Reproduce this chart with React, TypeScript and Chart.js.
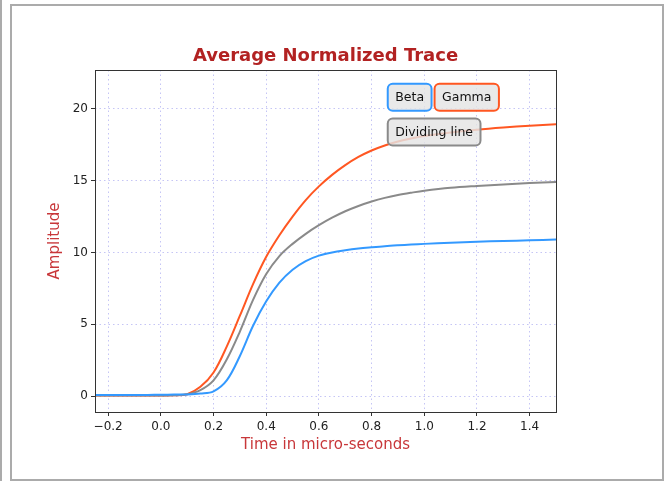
import React, { useEffect, useRef } from "react";
import { Chart, registerables } from "chart.js";

Chart.register(...registerables);

const timeValues = [-0.25, -0.15, -0.05, 0, 0.05, 0.1, 0.15, 0.2, 0.25, 0.3, 0.35, 0.4, 0.45, 0.5, 0.55, 0.6, 0.65, 0.7, 0.75, 0.8, 0.85, 0.9, 0.95, 1.0, 1.1, 1.2, 1.3, 1.4, 1.5];
const gammaValues = [0.05, 0.05, 0.05, 0.05, 0.06, 0.14, 0.65, 1.65, 3.45, 5.6, 7.8, 9.7, 11.2, 12.5, 13.65, 14.6, 15.4, 16.08, 16.65, 17.1, 17.45, 17.72, 17.93, 18.1, 18.35, 18.55, 18.7, 18.82, 18.92];
const dividingValues = [0.05, 0.05, 0.05, 0.05, 0.06, 0.13, 0.42, 1.1, 2.55, 4.5, 6.7, 8.5, 9.75, 10.6, 11.3, 11.9, 12.42, 12.87, 13.24, 13.55, 13.8, 14.0, 14.16, 14.3, 14.5, 14.63, 14.74, 14.83, 14.9];
const betaValues = [0.08, 0.08, 0.09, 0.1, 0.11, 0.12, 0.18, 0.34, 1.1, 2.8, 4.9, 6.6, 7.9, 8.8, 9.4, 9.78, 10.0, 10.15, 10.27, 10.36, 10.44, 10.5, 10.55, 10.6, 10.68, 10.75, 10.8, 10.85, 10.9];

const xTicks = [-0.2, 0.0, 0.2, 0.4, 0.6, 0.8, 1.0, 1.2, 1.4];
const yTicks = [0, 5, 10, 15, 20];

const titleText = "Average Normalized Trace";
const xLabel = "Time in micro-seconds";
const yLabel = "Amplitude";
const legendRow1 = ["Beta", "Gamma"];
const legendRow2 = ["Dividing line"];

const FONT = "'DejaVu Sans', 'Noto Sans', sans-serif";
const BLUE = "#3399ff";
const ORANGE = "#ff5722";
const GRAY = "#8a8a8a";

const fmt = (v: number, d: number) => {
  const s = Math.abs(v).toFixed(d);
  return v < -1e-9 ? "\u2212" + s : s;
};

const overlayPlugin = {
  id: "overlay",
  afterDraw(chart: any) {
    const { ctx, chartArea } = chart;
    const { left, right, top, bottom } = chartArea;
    ctx.save();
    // axes frame
    ctx.strokeStyle = "#333333";
    ctx.lineWidth = 1;
    ctx.strokeRect(Math.round(left) + 0.5, Math.round(top) + 0.5, Math.round(right - left), Math.round(bottom - top));
    // title
    ctx.fillStyle = "#b22222";
    ctx.font = "bold 18px " + FONT;
    ctx.textAlign = "center";
    ctx.textBaseline = "alphabetic";
    ctx.fillText(titleText, (left + right) / 2, top - 9);

    // text boxes
    const w = right - left;
    const h = bottom - top;
    const drawBox = (x: number, y: number, text: string, color: string) => {
      ctx.font = "12.5px " + FONT;
      const tw = ctx.measureText(text).width;
      const bw = tw + 15;
      const bh = 27;
      const r = 5;
      ctx.beginPath();
      ctx.roundRect(x, y, bw, bh, r);
      ctx.fillStyle = "rgba(228,228,228,0.82)";
      ctx.fill();
      ctx.lineWidth = 2;
      ctx.strokeStyle = color;
      ctx.stroke();
      ctx.fillStyle = "#111111";
      ctx.textAlign = "center";
      ctx.textBaseline = "middle";
      ctx.fillText(text, x + bw / 2, y + bh / 2 + 0.5);
      return bw;
    };
    const bx = left + w * 0.635;
    const by1 = top + h * 0.04;
    const by2 = top + h * 0.142;
    const colors1 = [BLUE, ORANGE];
    let cx = bx;
    legendRow1.forEach((t, i) => {
      const bw = drawBox(cx, by1, t, colors1[i]);
      cx += bw + 3;
    });
    legendRow2.forEach((t) => {
      drawBox(bx, by2, t, GRAY);
    });
    ctx.restore();
  },
};

export default function App() {
  const canvasRef = useRef<HTMLCanvasElement | null>(null);

  useEffect(() => {
    document.body.style.margin = "0";
    const canvas = canvasRef.current;
    if (!canvas) return;
    const mk = (vals: number[]) => timeValues.map((x, i) => ({ x, y: vals[i] }));
    const chart = new Chart(canvas, {
      type: "line",
      data: {
        datasets: [
          { label: "Beta", data: mk(betaValues), borderColor: BLUE },
          { label: "Dividing line", data: mk(dividingValues), borderColor: GRAY },
          { label: "Gamma", data: mk(gammaValues), borderColor: ORANGE },
        ].map((d) => ({
          ...d,
          borderWidth: 2,
          pointRadius: 0,
          fill: false,
          tension: 0.35,
        })),
      },
      options: {
        animation: false,
        responsive: false,
        devicePixelRatio: 1,
        layout: { padding: { left: 42, right: 109, top: 70, bottom: 23 } },
        plugins: {
          legend: { display: false },
          title: { display: false },
          tooltip: { enabled: false },
        },
        scales: {
          x: {
            type: "linear",
            min: -0.25,
            max: 1.5,
            afterBuildTicks: (scale: any) => {
              scale.ticks = xTicks.map((v) => ({ value: v }));
            },
            afterFit: (scale: any) => {
              scale.height = 46;
            },
            ticks: {
              color: "#222222",
              font: { family: FONT, size: 12 },
              padding: 4,
              maxRotation: 0,
              autoSkip: false,
              callback: (v: any) => fmt(Number(v), 1),
            },
            grid: {
              color: "rgba(140,140,235,0.5)",
              lineWidth: 1,
              tickLength: 4,
              tickColor: "#333333",
              tickWidth: 1,
            },
            border: { display: false, dash: [1.5, 3] },
            title: {
              display: true,
              text: xLabel,
              color: "#c8373a",
              font: { family: FONT, size: 15 },
              padding: { top: 4, bottom: 4 },
            },
          },
          y: {
            type: "linear",
            min: -1.1,
            max: 22.7,
            afterBuildTicks: (scale: any) => {
              scale.ticks = yTicks.map((v) => ({ value: v }));
            },
            afterFit: (scale: any) => {
              scale.width = 53;
            },
            ticks: {
              color: "#222222",
              font: { family: FONT, size: 12 },
              padding: 3,
              callback: (v: any) => fmt(Number(v), 0),
            },
            grid: {
              color: "rgba(140,140,235,0.5)",
              lineWidth: 1,
              tickLength: 4,
              tickColor: "#333333",
              tickWidth: 1,
            },
            border: { display: false, dash: [1.5, 3] },
            title: {
              display: true,
              text: yLabel,
              color: "#c8373a",
              font: { family: FONT, size: 15 },
              padding: { top: 4, bottom: 4 },
            },
          },
        },
      },
      plugins: [overlayPlugin],
    } as any);
    return () => chart.destroy();
  }, []);

  return (
    <div style={{ position: "relative", width: 665, height: 481, background: "#ffffff", overflow: "hidden" }}>
      <div style={{ position: "absolute", left: 0, top: 0, width: 2, height: 481, background: "#ababab" }} />
      <div
        style={{
          position: "absolute",
          left: 10,
          top: 4,
          width: 654,
          height: 477,
          border: "2px solid #ababab",
          boxSizing: "border-box",
        }}
      />
      <canvas ref={canvasRef} width={665} height={481} style={{ position: "absolute", left: 0, top: 0 }} />
    </div>
  );
}
